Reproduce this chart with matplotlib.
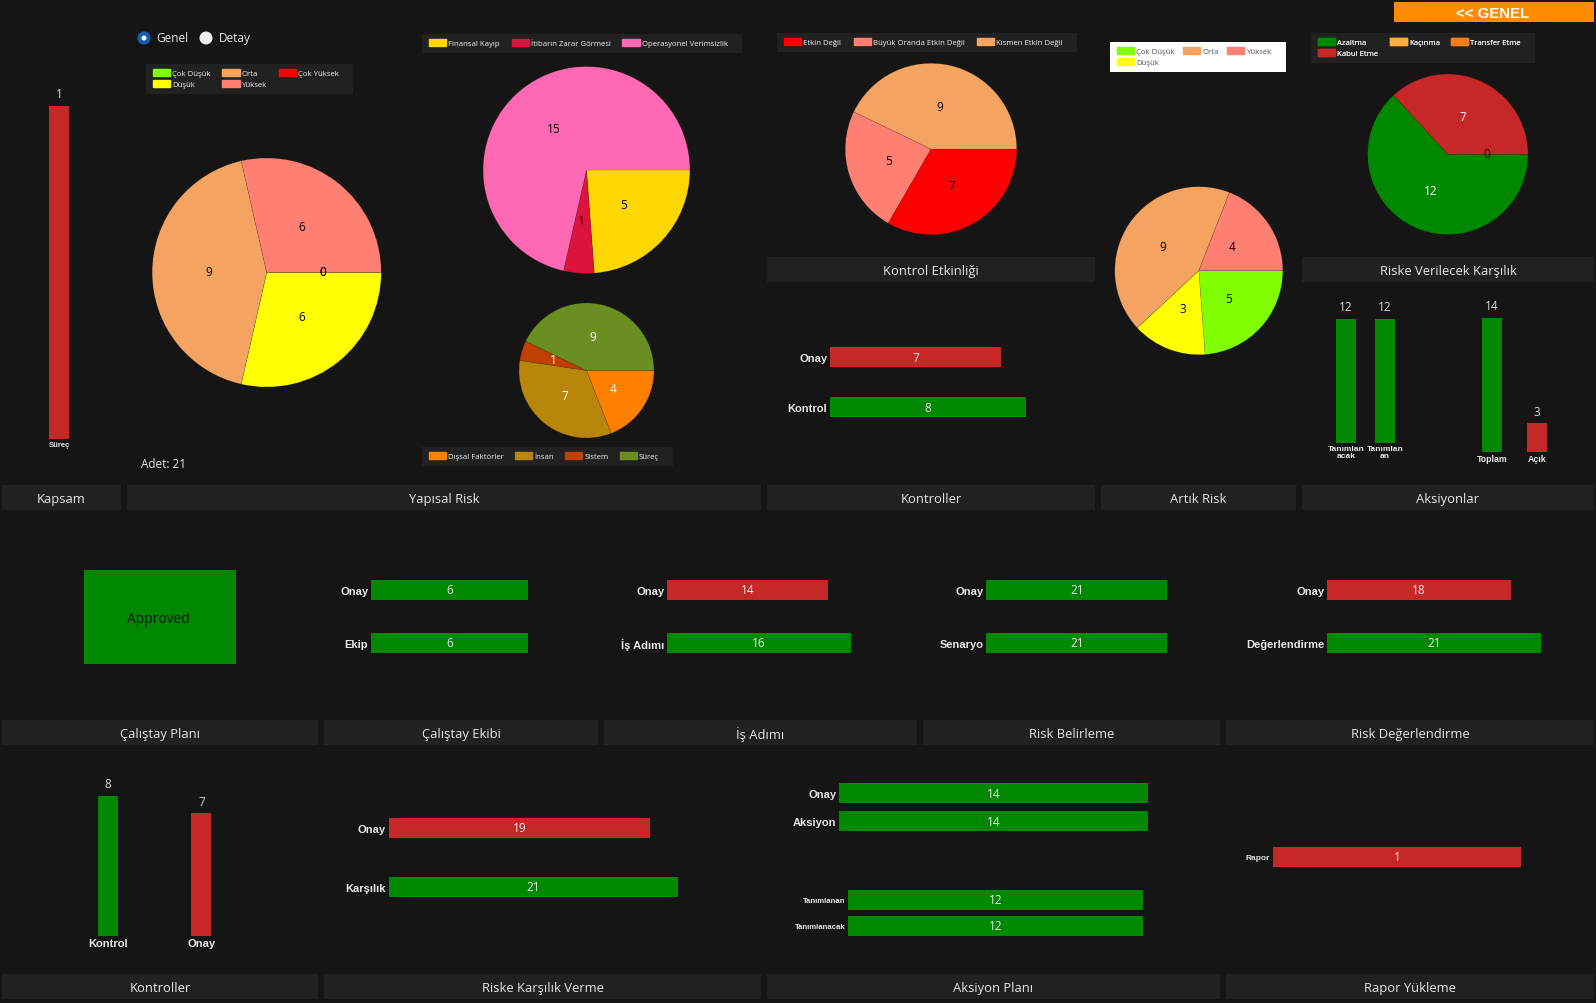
import matplotlib
matplotlib.use("Agg")
import matplotlib.pyplot as plt
from matplotlib.patches import Rectangle, Circle, Patch

W, H = 1596, 1004
Y_OFF = 1
BG = "#151515"
BAND = "#212121"
GREEN = "#008800"
RED = "#C62828"
TXT = "#E6E6E6"

# pie data
risk_levels = ["Çok Düşük", "Düşük", "Orta", "Yüksek", "Çok Yüksek"]
risk_colors = ["#7FFF00", "#FFFF00", "#F4A460", "#FF8072", "#FF0000"]
yapisal_values = [0, 6, 9, 6, 0]

etki_names = ["Finansal Kayıp", "İtibarın Zarar Görmesi", "Operasyonel Verimsizlik"]
etki_colors = ["#FFD700", "#DC143C", "#FF69B4"]
etki_values = [5, 1, 15]

kaynak_names = ["Dışsal Faktörler", "İnsan", "Sistem", "Süreç"]
kaynak_colors = ["#FF8000", "#B8860B", "#BF4000", "#6B8E23"]
kaynak_values = [4, 7, 1, 9]

etkinlik_names = ["Etkin Değil", "Büyük Oranda Etkin Değil", "Kısmen Etkin Değil"]
etkinlik_colors = ["#FF0000", "#FF8072", "#F4A460"]
etkinlik_values = [7, 5, 9]

artik_names = ["Çok Düşük", "Düşük", "Orta", "Yüksek"]
artik_colors = ["#7FFF00", "#FFFF00", "#F4A460", "#FF8072"]
artik_values = [5, 3, 9, 4]

karsilik_names = ["Azaltma", "Kabul Etme", "Kaçınma", "Transfer Etme"]
karsilik_colors = [GREEN, RED, "#FFAB40", "#F57F17"]
karsilik_pie_colors = ["#FFAB40", GREEN, RED]
karsilik_values = [0, 12, 7]

# bar data
kapsam_names = ["Süreç"]
kapsam_values = [1]
kontrol_names = ["Onay", "Kontrol"]
kontrol_values = [7, 8]
ekip_names = ["Onay", "Ekip"]
ekip_values = [6, 6]
adim_names = ["Onay", "İş Adımı"]
adim_values = [14, 16]
belirleme_names = ["Onay", "Senaryo"]
belirleme_values = [21, 21]
degerlendirme_names = ["Onay", "Değerlendirme"]
degerlendirme_values = [18, 21]
kontroller_names = ["Kontrol", "Onay"]
kontroller_values = [8, 7]
verme_names = ["Onay", "Karşılık"]
verme_values = [19, 21]
aksiyon_names = ["Onay", "Aksiyon"]
aksiyon_values = [14, 14]
tanim_names = ["Tanımlanan", "Tanımlanacak"]
tanim_values = [12, 12]
rapor_names = ["Rapor"]
rapor_values = [1]
tanim2_names = ["Tanımlan\nacak", "Tanımlan\nan"]
tanim2_values = [12, 12]
acik_names = ["Toplam", "Açık"]
acik_values = [14, 3]

plt.rcParams["font.family"] = ["Open Sans", "DejaVu Sans"]

fig = plt.figure(figsize=(W / 100, H / 100), dpi=100, facecolor=BG)

# full size axes in pixel coordinates, for bands and the like
bg = fig.add_axes([0, 0, 1, 1], zorder=0)
bg.set_xlim(0, W)
bg.set_ylim(H - Y_OFF, -Y_OFF)
bg.axis("off")


def px_axes(x0, y0, x1, y1, **kw):
    return fig.add_axes([x0 / W, 1 - (y1 + Y_OFF) / H, (x1 - x0) / W, (y1 - y0) / H], zorder=2, **kw)


def band(x0, x1, y0, y1, text):
    bg.add_patch(Rectangle((x0, y0), x1 - x0, y1 - y0, color=BAND, lw=0))
    bg.text((x0 + x1) / 2, (y0 + y1) / 2 + 1.5, text, color=TXT, fontsize=9.4, ha="center", va="center")


def pie(cx, cy, r, values, colors, label_colors):
    ax = px_axes(cx - r, cy - r, cx + r, cy + r)
    wedges, texts = ax.pie(values, colors=colors, labels=values, startangle=0, counterclock=False,
                           labeldistance=0.5, radius=1,
                           wedgeprops={"linewidth": 0.4, "edgecolor": "#00000030"},
                           textprops={"fontsize": 8.5, "ha": "center", "va": "center"})
    for t, c in zip(texts, label_colors):
        t.set_color(c)
        # nudge the label up a pixel and left a pixel
        x, y = t.get_position()
        t.set_position((x - 1 / r, y + 1 / r))
    ax.set_xlim(-1, 1)
    ax.set_ylim(-1, 1)
    return ax


def legend(x0, y0, x1, y1, names, colors, ncol, face=BAND, text="#F0F0F0"):
    bg.add_patch(Rectangle((x0, y0), x1 - x0, y1 - y0, color=face, lw=0))
    handles = [Patch(color=c, label=n) for n, c in zip(names, colors)]
    leg = bg.legend(handles=handles, ncol=ncol, loc="upper left", mode="expand",
                    bbox_to_anchor=(x0 + 7, y0 + 5, x1 - x0 - 21, y1 - y0 - 8),
                    bbox_transform=bg.transData, frameon=False, borderpad=0, borderaxespad=0,
                    fontsize=5.6, labelcolor=text, handlelength=2.2, handleheight=1.05,
                    handletextpad=0.3, labelspacing=0.36, columnspacing=0.8)
    bg.add_artist(leg)


def hbars(names, values, colors, left, ppu, y_first, y_step, label_size=8):
    # one unit of the value axis is ppu pixels, one category is y_step pixels
    thick = 20
    n = len(values)
    ax = px_axes(left, y_first - y_step / 2, left + ppu * max(values), y_first + y_step * (n - 0.5))
    ax.patch.set_visible(False)
    bars = ax.barh(range(n), values, height=thick / y_step, color=colors)
    ax.set_xlim(0, max(values))
    ax.set_ylim(n - 0.5, -0.5)
    ax.set_yticks(range(n), names, fontsize=label_size, fontweight="bold", color=TXT, family="Liberation Sans")
    ax.set_xticks([])
    ax.tick_params(axis="y", length=0, pad=2)
    for s in ax.spines.values():
        s.set_visible(False)
    ax.bar_label(bars, label_type="center", color="#EAEAEA", fontsize=8.5)
    return ax


def vbars(names, values, colors, x_first, x_step, base, ppu, label_size=6):
    width = 20
    n = len(values)
    ax = px_axes(x_first - x_step / 2, base - ppu * max(values), x_first + x_step * (n - 0.5), base)
    ax.patch.set_visible(False)
    bars = ax.bar(range(n), values, width=width / x_step, color=colors)
    ax.set_xlim(-0.5, n - 0.5)
    ax.set_ylim(0, max(values))
    ax.set_xticks(range(n), names, fontsize=label_size, fontweight="bold", color=TXT,
                  family="Liberation Sans", linespacing=0.95)
    ax.set_yticks([])
    ax.tick_params(axis="x", length=0, pad=1.5)
    for s in ax.spines.values():
        s.set_visible(False)
    ax.bar_label(bars, padding=4, color="#D8D8D8", fontsize=8.5)
    return ax


# top edge and the button
bg.add_patch(Rectangle((0, -Y_OFF), W, 1, color="#F0F0F0", lw=0))
bg.add_patch(Rectangle((1394, 2), 200, 20, color="#FF8C00", lw=0))
bg.text(1493, 12.5, "<< GENEL", color="white", fontsize=10.8, fontweight="bold", ha="center", va="center",
        family="Liberation Sans")

# radio buttons
bg.add_patch(Circle((144, 38), 6.5, color="#0F5FB5", lw=0))
bg.add_patch(Circle((144, 38), 2.5, color="white", lw=0))
bg.add_patch(Circle((206, 38), 6.5, color="#EFEFEF", lw=0))
bg.text(156, 37.5, "Genel", color=TXT, fontsize=8.5, va="center")
bg.text(218.5, 37.5, "Detay", color=TXT, fontsize=8.5, va="center")
bg.text(141, 463.5, "Adet: 21", color=TXT, fontsize=8.5, va="center")

# section headers
band(2, 121, 485, 510, "Kapsam")
band(127, 761, 485, 510, "Yapısal Risk")
band(767, 1095, 485, 510, "Kontroller")
band(1101, 1296, 485, 510, "Artık Risk")
band(1302, 1594, 485, 510, "Aksiyonlar")
band(767, 1095, 257, 282, "Kontrol Etkinliği")
band(1302, 1594, 257, 282, "Riske Verilecek Karşılık")
band(2, 318, 720, 745, "Çalıştay Planı")
band(324, 598, 720, 745, "Çalıştay Ekibi")
band(604, 917, 720, 745, "İş Adımı")
band(923, 1220, 720, 745, "Risk Belirleme")
band(1226, 1594, 720, 745, "Risk Değerlendirme")
band(2, 318, 974, 999, "Kontroller")
band(324, 761, 974, 999, "Riske Karşılık Verme")
band(767, 1220, 974, 999, "Aksiyon Planı")
band(1226, 1594, 974, 999, "Rapor Yükleme")

# pies
pie(266.7, 272.5, 114.5, yapisal_values, risk_colors, ["black"] * 5)
pie(586.5, 170, 103.4, etki_values, etki_colors, ["black"] * 3)
pie(586.5, 370.5, 67.5, kaynak_values, kaynak_colors, ["white"] * 4)
pie(931, 149, 85.7, etkinlik_values, etkinlik_colors, ["black"] * 3)
pie(1198.8, 270.7, 84, artik_values, artik_colors, ["black"] * 4)
pie(1447.8, 154.3, 80.2, karsilik_values, karsilik_pie_colors, ["black", "white", "white"])

# legends
legend(146, 64, 353, 94, risk_levels, risk_colors, 3)
legend(422, 34, 742, 53, etki_names, etki_colors, 3)
legend(422, 447, 673, 466, kaynak_names, kaynak_colors, 4)
legend(777, 33, 1077, 52, etkinlik_names, etkinlik_colors, 3)
legend(1110, 42, 1286, 72, artik_names, artik_colors, 3, face="white", text="#555555")
legend(1311, 33, 1535, 63, karsilik_names, karsilik_colors, 3)

# vertical bars
vbars(kapsam_names, kapsam_values, [RED], 59, 60, 439, 333, label_size=5.5)
vbars(kontroller_names, kontroller_values, [GREEN, RED], 107.9, 93.6, 935.5, 17.45, label_size=8)
vbars(tanim2_names, tanim2_values, [GREEN, GREEN], 1346, 39, 443, 10.33)
vbars(acik_names, acik_values, [GREEN, RED], 1492, 45, 452, 9.57, label_size=6.3)

# horizontal bars
hbars(kontrol_names, kontrol_values, [RED, GREEN], 830, 24.47, 357, 50)
hbars(ekip_names, ekip_values, [GREEN, GREEN], 371, 26.2, 590, 53)
hbars(adim_names, adim_values, [RED, GREEN], 667, 11.5, 590, 53)
hbars(belirleme_names, belirleme_values, [GREEN, GREEN], 986.4, 8.62, 590, 53)
hbars(degerlendirme_names, degerlendirme_values, [RED, GREEN], 1327.3, 10.18, 590, 53)
hbars(verme_names, verme_values, [RED, GREEN], 388.8, 13.77, 827.6, 59)
hbars(aksiyon_names, aksiyon_values, [GREEN, GREEN], 839, 22.07, 793, 28)
hbars(tanim_names, tanim_values, [GREEN, GREEN], 848, 24.6, 900, 26, label_size=5.6)
hbars(rapor_names, rapor_values, [RED], 1273, 248, 857, 40, label_size=6)

# approved card
bg.add_patch(Rectangle((84, 570), 152, 94, color=GREEN, lw=0))
bg.text(158.5, 619, "Approved", color="#061806", fontsize=10, ha="center", va="center")

fig.savefig("out.png", dpi=100, facecolor=BG)
